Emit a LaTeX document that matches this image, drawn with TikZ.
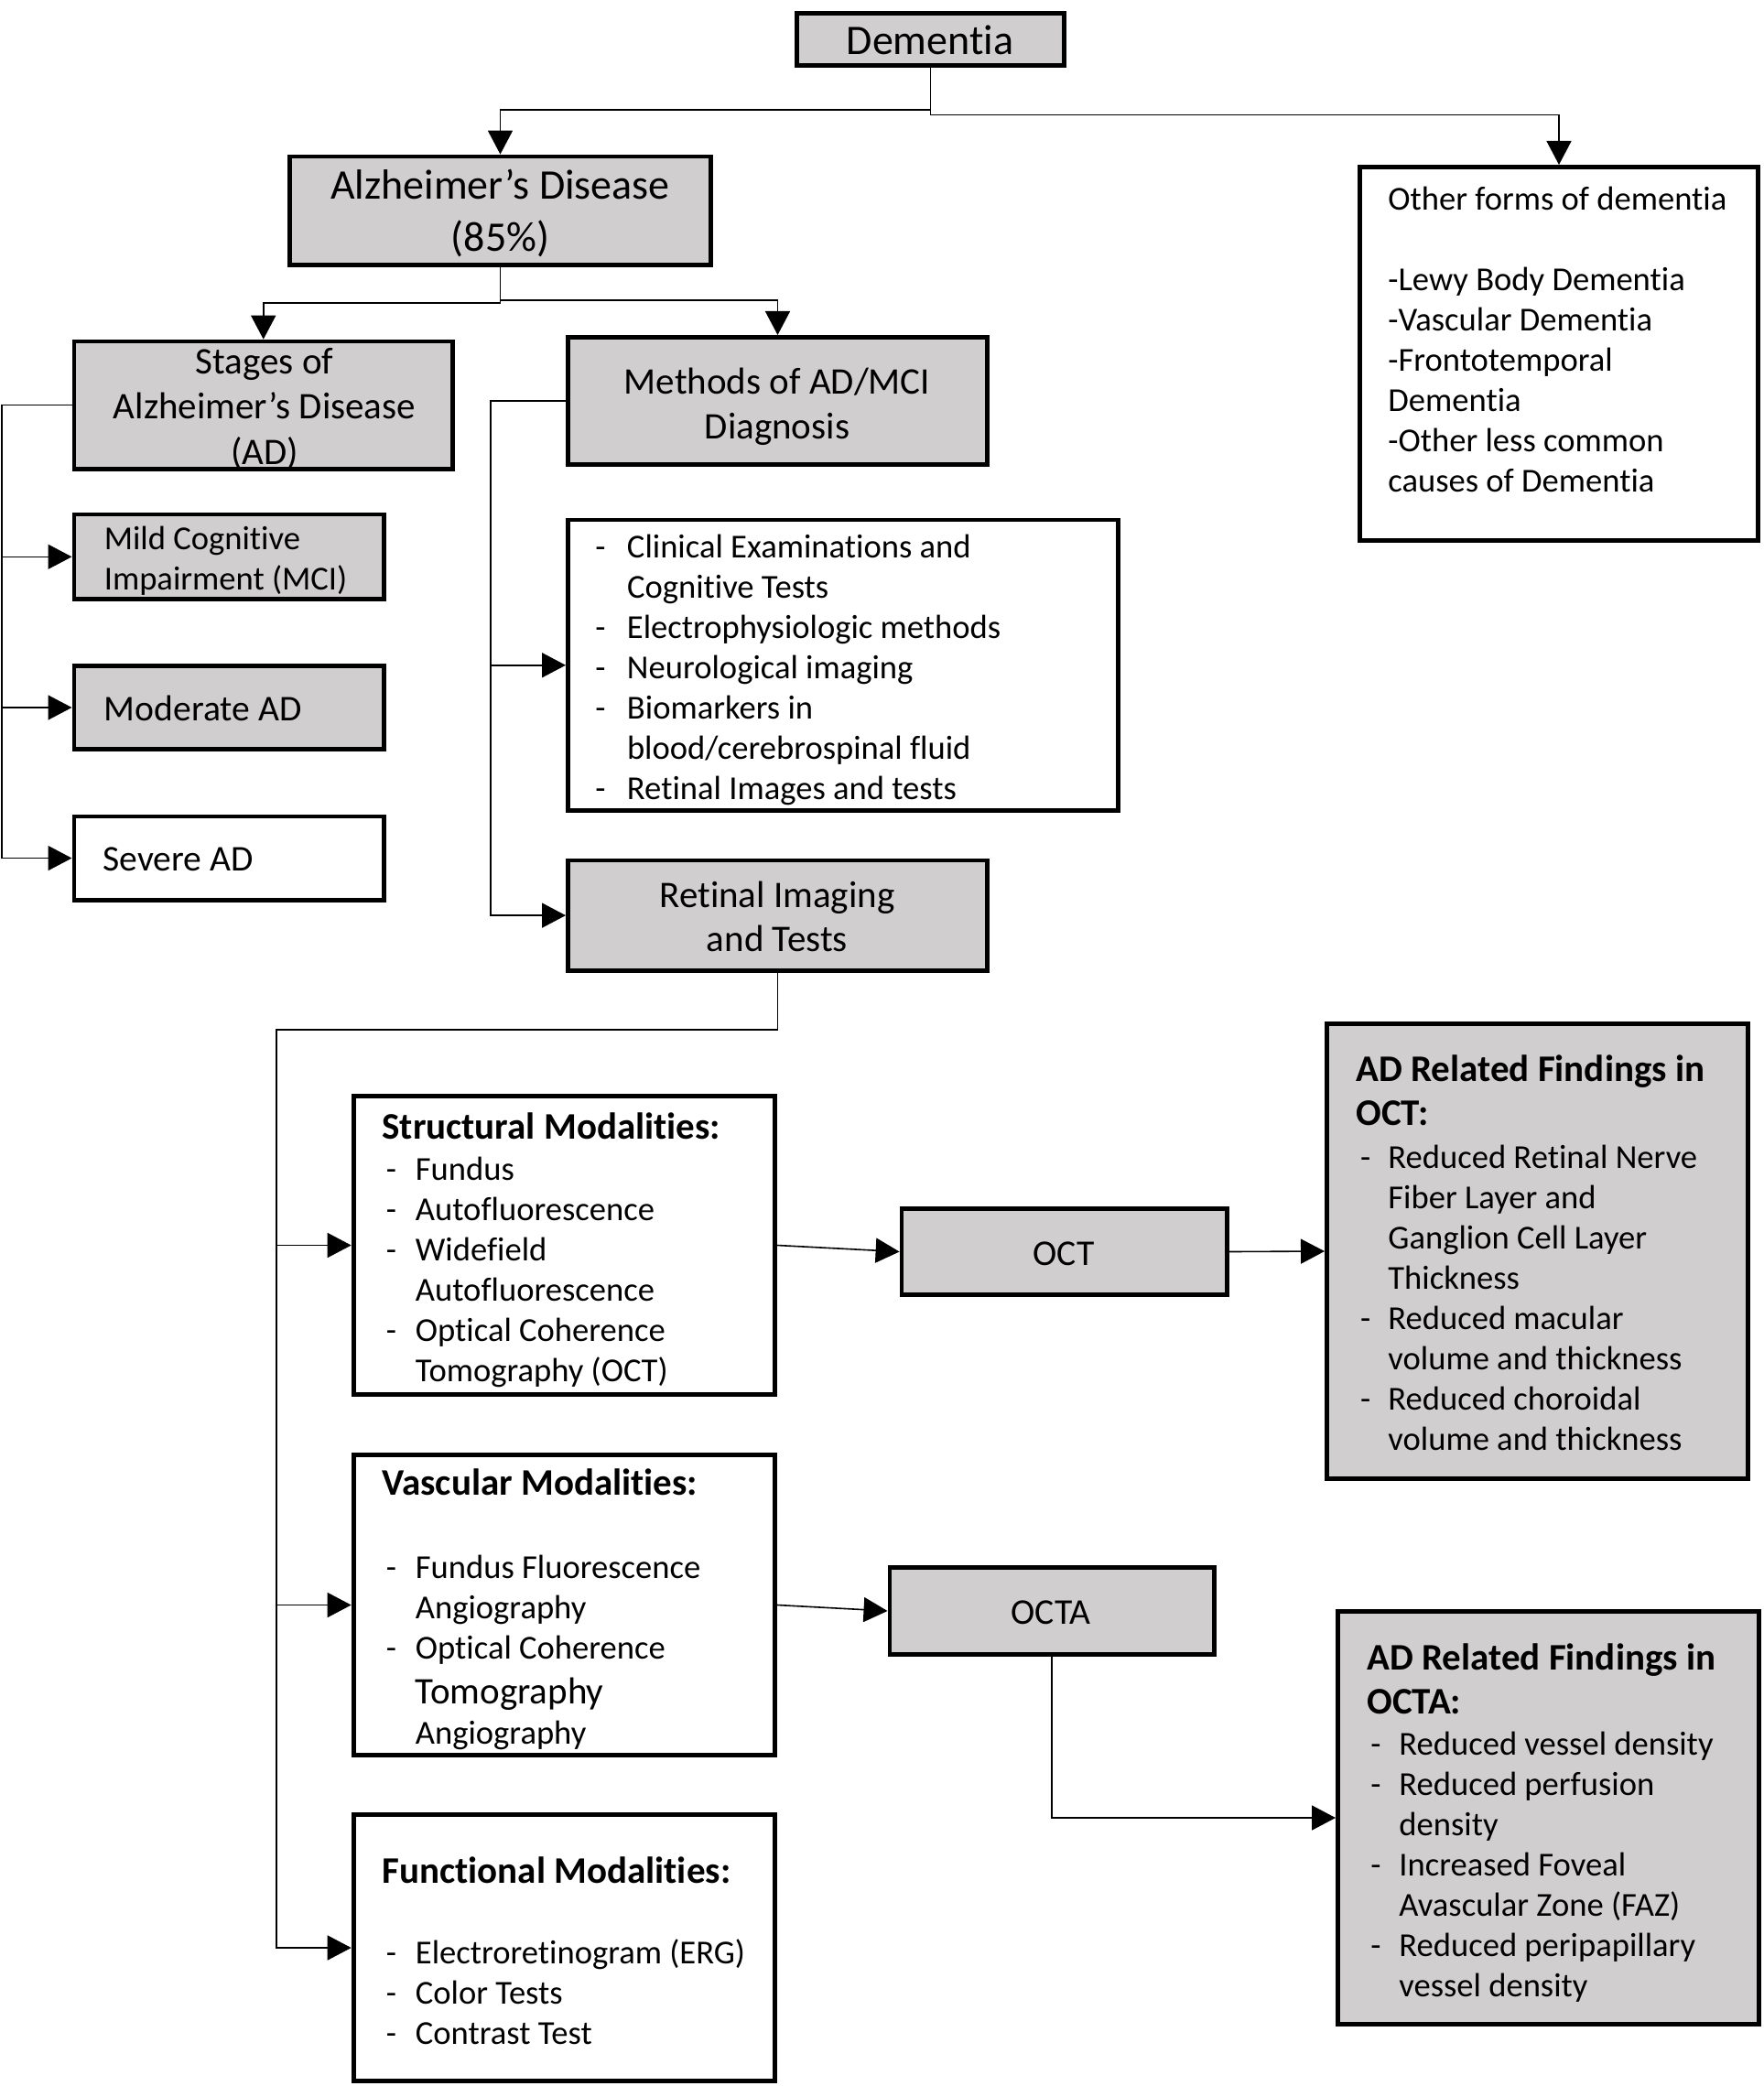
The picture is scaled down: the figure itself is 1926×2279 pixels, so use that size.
\documentclass[tikz,border=0pt]{standalone}
\usepackage{fontspec}
\setmainfont{Carlito}[Ligatures=NoCommon]
\usetikzlibrary{arrows.meta}
\definecolor{boxgray}{RGB}{208,206,206}
\newcommand\tb[1]{\begin{tabular}[t]{@{}l@{}}#1\end{tabular}}
\newcommand\tcen[1]{\begin{tabular}[t]{@{}c@{}}#1\end{tabular}}
\newcommand\tlist[2]{\begin{tabular}[t]{@{}p{#1}@{}l@{}}#2\end{tabular}}
\newcommand\fbig{\fontsize{23}{28.35}\selectfont}
\newcommand\fhead{\fontsize{20.5}{24.7}\selectfont}
\newcommand\fheadb{\fontsize{20.5}{24}\selectfont\bfseries}
\newcommand\flist{\fontsize{18.3}{22}\selectfont}
\newcommand\fmid{\fontsize{19.8}{24}\selectfont}
\newcommand\bx[6]{\node[#2, minimum width={(#5-#3)*0.5pt-2.4pt}, minimum height={(#6-#4)*0.5pt-2.4pt}] (#1) at ({(#3+#5)/2},{(#4+#6)/2}) {};}
\begin{document}
\begin{tikzpicture}[x=0.5pt,y=-0.5pt,
 gbox/.style={draw, line width=2.4pt, fill=boxgray, inner sep=0pt},
 wbox/.style={draw, line width=2.4pt, fill=white, inner sep=0pt},
 conn/.style={line width=0.8pt},
 arr/.style={conn, -{Triangle[length=13pt,width=13.5pt]}},
 txt/.style={inner sep=0pt, anchor=base west},
 ctxt/.style={inner sep=0pt, anchor=base}]
\useasboundingbox[fill=white] (0,0) rectangle (1926,2279);
% boxes
\bx{dem}{gbox}{868}{12}{1165}{74}
\bx{adz}{gbox}{314}{168.6}{779}{292}
\bx{oth}{wbox}{1483}{180}{1923}{593}
\bx{stg}{gbox}{78.5}{370.7}{497}{514.6}
\bx{mth}{gbox}{618}{366}{1081}{510}
\bx{mci}{gbox}{78.5}{559.6}{421.5}{657}
\bx{mod}{gbox}{78.5}{725}{421.5}{821}
\bx{sev}{wbox}{78.5}{889.6}{421.5}{985.5}
\bx{mls}{wbox}{618}{565.5}{1224}{888}
\bx{ret}{gbox}{618}{937.6}{1081}{1062.6}
\bx{str}{wbox}{383.7}{1195}{849}{1526}
\bx{oct}{gbox}{982.6}{1318}{1343}{1417}
\bx{adoct}{gbox}{1447}{1116}{1912}{1618}
\bx{vas}{wbox}{383.7}{1587}{849}{1920}
\bx{octa}{gbox}{969.5}{1710}{1328.6}{1810}
\bx{adocta}{gbox}{1459}{1758}{1924}{2214}
\bx{fun}{wbox}{383.7}{1980}{849}{2276}
% helper coordinates
\coordinate (j1) at (0,120);
\coordinate (j2) at (0,125.7);
\coordinate (h1) at (0,331);
\coordinate (h2) at (0,328);
\coordinate (sv) at (2,0);
\coordinate (mv) at (536,0);
\coordinate (rh) at (0,1125);
\coordinate (rv) at (302,0);
% connectors
\draw[arr] (dem.south) -- (dem.south |- j2) -| (oth.north);
\draw[arr] (dem.south |- j1) -| (adz.north);
\draw[arr] (adz.south) -- (adz.south |- h1) -| (stg.north);
\draw[arr] (adz.south |- h2) -| (mth.north);
\draw[arr] (stg.west) -| (sev.west -| sv) -- (sev.west);
\draw[arr] (mci.west -| sv) -- (mci.west);
\draw[arr] (mod.west -| sv) -- (mod.west);
\draw[arr] (mth.west) -| (ret.west -| mv) -- (ret.west);
\draw[arr] (mls.west -| mv) -- (mls.west);
\draw[arr] (ret.south) -- (ret.south |- rh) -| (fun.west -| rv) -- (fun.west);
\draw[arr] (str.west -| rv) -- (str.west);
\draw[arr] (vas.west -| rv) -- (vas.west);
\draw[arr] (str.east) -- (oct.west);
\draw[arr] (oct.east) -- (adoct.west);
\draw[arr] (vas.east) -- (octa.west);
\draw[arr] (octa.south) |- (adocta.west);
% texts
\begin{scope}[shift={(0,3)}]
\node[ctxt, font=\fbig] (tdem) at (1016,56.6) {Dementia};
\node[ctxt, font=\fbig] (tadz) at (546.5,215) {\tcen{Alzheimer’s Disease\\(85\%)}};
\node[txt, font=\flist] (toth) at (1516,226.6) {\tb{Other forms of dementia\\ \\-Lewy Body Dementia\\-Vascular Dementia\\-Frontotemporal\\Dementia\\-Other less common\\causes of Dementia}};
\node[ctxt, font=\fhead] (tstg) at (289,405.5) {\tcen{Stages of\\Alzheimer’s Disease\\(AD)}};
\node[ctxt, font=\fhead] (tmth) at (849,427) {\tcen{Methods of AD/MCI\\Diagnosis}};
\node[txt, font=\flist] (tmci) at (113.4,597.3) {\tb{Mild Cognitive\\Impairment (MCI)}};
\node[txt, font=\fmid] (tmod) at (113.4,784.5) {Moderate AD};
\node[txt, font=\fmid] (tsev) at (112,948.6) {Severe AD};
\node[txt, font=\flist] (tmls) at (650,606) {\tlist{17.3pt}{-&Clinical Examinations and\\&Cognitive Tests\\-&Electrophysiologic methods\\-&Neurological imaging\\-&Biomarkers in\\&blood/cerebrospinal fluid\\-&Retinal Images and tests}};
\node[ctxt, font=\fontsize{20.5}{24}\selectfont] (tret) at (849,988) {\tcen{Retinal Imaging\\and Tests}};
\node[txt, font=\fheadb] (tstrh) at (417,1241) {Structural Modalities:};
\node[txt, font=\flist] (tstrl) at (421.5,1286) {\tlist{16pt}{-&Fundus\\-&Autofluorescence\\-&Widefield\\&Autofluorescence\\-&Optical Coherence\\&Tomography (OCT)}};
\node[ctxt, font=\fmid] (toct) at (1162,1379) {OCT};
\node[txt, font=\fheadb] (tadoh) at (1481,1178.5) {\tb{AD Related Findings in\\OCT:}};
\node[txt, font=\flist] (tadol) at (1485.6,1273) {\tlist{15.2pt}{-&Reduced Retinal Nerve\\&Fiber Layer and\\&Ganglion Cell Layer\\&Thickness\\-&Reduced macular\\&volume and thickness\\-&Reduced choroidal\\&volume and thickness}};
\node[txt, font=\fheadb] (tvash) at (417,1630.5) {Vascular Modalities:};
\node[txt, font=\flist] (tvasl) at (421.5,1721) {\tlist{16pt}{-&Fundus Fluorescence\\&Angiography\\-&Optical Coherence\\[2.5pt]&{\fontsize{20.5}{24}\selectfont Tomography}\\&Angiography}};
\node[ctxt, font=\fmid] (tocta) at (1148,1771) {OCTA};
\node[txt, font=\fheadb] (tadah) at (1493,1821.5) {\tb{AD Related Findings in\\OCTA:}};
\node[txt, font=\flist] (tadal) at (1497,1914) {\tlist{15.5pt}{-&Reduced vessel density\\-&Reduced perfusion\\&density\\-&Increased Foveal\\&Avascular Zone (FAZ)\\-&Reduced peripapillary\\&vessel density}};
\node[txt, font=\fheadb] (tfunh) at (417,2054) {Functional Modalities:};
\node[txt, font=\flist] (tfunl) at (421.5,2142.5) {\tlist{16pt}{-&Electroretinogram (ERG)\\-&Color Tests\\-&Contrast Test}};
\end{scope}
\end{tikzpicture}
\end{document}
